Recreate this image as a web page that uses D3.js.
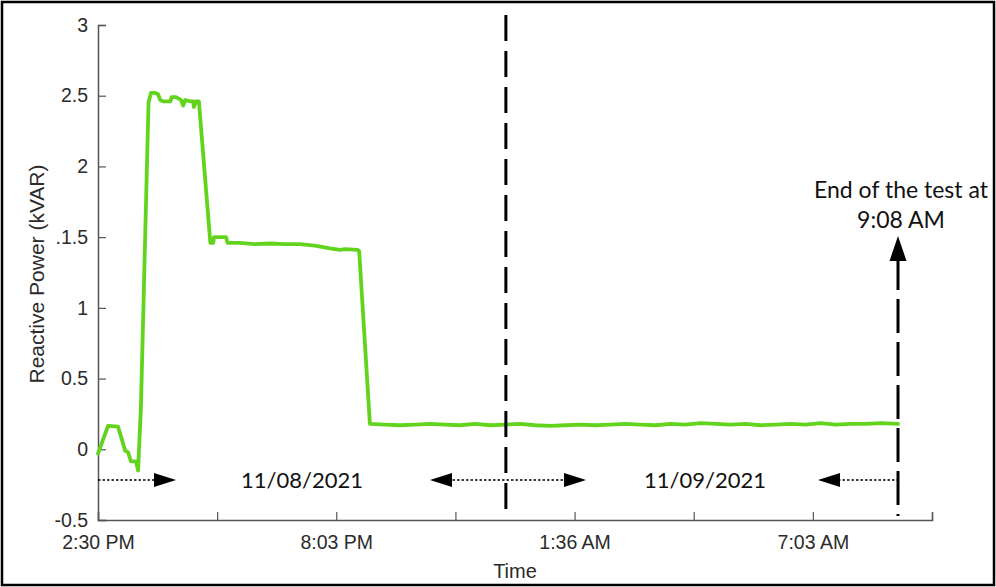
<!DOCTYPE html>
<html>
<head>
<meta charset="utf-8">
<script src="https://cdn.jsdelivr.net/npm/d3@7"></script>
<style>
  html, body { margin: 0; padding: 0; background: #fff; }
  svg { display: block; }
</style>
</head>
<body>
<svg id="chart" width="996" height="587"></svg>
<script>
// Reactive power over the test run; time in minutes after 2:30 PM
const timeMin = [0, 14, 28, 38, 42, 46, 53, 56, 60, 70.6, 74, 80, 84, 87, 91, 101, 103, 109, 116, 119, 122, 129, 133, 134, 137, 141,
  157, 161, 162, 179, 181, 198, 219, 240, 261, 282, 303, 324, 338, 345, 363, 365,
  380, 401, 422, 443, 464, 485, 506, 527, 548, 569, 590, 611, 632, 653, 674, 695, 716, 737, 758, 779, 800, 821, 842, 863,
  884, 905, 926, 947, 968, 989, 1010, 1031, 1052, 1073, 1094, 1118];
const kvar = [-0.03, 0.165, 0.16, -0.01, -0.02, -0.085, -0.085, -0.15, 0.3, 2.45, 2.52, 2.52, 2.51, 2.47, 2.46, 2.46, 2.49, 2.49, 2.47, 2.43, 2.47, 2.46, 2.46, 2.42, 2.46, 2.46,
  1.46, 1.46, 1.50, 1.50, 1.46, 1.46, 1.45, 1.455, 1.45, 1.45, 1.44, 1.42, 1.41, 1.415, 1.41, 1.40,
  0.18, 0.175, 0.17, 0.175, 0.18, 0.175, 0.17, 0.18, 0.17, 0.175, 0.18, 0.17, 0.165, 0.17, 0.175, 0.17, 0.175, 0.18, 0.175, 0.17, 0.18, 0.175, 0.185, 0.18,
  0.175, 0.18, 0.17, 0.175, 0.18, 0.175, 0.185, 0.175, 0.18, 0.18, 0.185, 0.18];

const yTicks = [-0.5, 0, 0.5, 1, 1.5, 2, 2.5, 3];
const yTickLabels = ["-0.5", "0", "0.5", "1", ".1.5", "2", "2.5", "3"];
const xTicks = [0, 166.5, 333, 499.5, 666, 832.5, 999, 1165.5];
const xTickLabels = ["2:30 PM", "", "8:03 PM", "", "1:36 AM", "", "7:03 AM", ""];

const dateLabels = ["11/08/2021", "11/09/2021"];
const midnightMin = 570;     // 12:00 AM
const endTestMin = 1118;     // 9:08 AM
const endNote = ["End of the test at", "9:08 AM"];

const svg = d3.select("#chart");
const W = 996, H = 587;
const m = { left: 98, right: 64, top: 25, bottom: 67 };

// outer frame
svg.append("rect").attr("x", 2).attr("y", 2).attr("width", W - 4).attr("height", H - 4)
  .attr("fill", "#fff").attr("stroke", "#000").attr("stroke-width", 2.5);

const x = d3.scaleLinear().domain([0, 1165.5]).range([m.left, W - m.right]);
const y = d3.scaleLinear().domain([-0.5, 3]).range([H - m.bottom, m.top]);

const axisColor = "#555";
const textColor = "#2b2b2b";
const labelFont = "'Liberation Sans', Arial, sans-serif";

// y axis, ticks pointing inward
const gy = svg.append("g").attr("transform", `translate(${m.left},0)`)
  .call(d3.axisLeft(y).tickValues(yTicks).tickSize(-8).tickPadding(10)
    .tickFormat((d, i) => yTickLabels[i]));
gy.select(".domain").attr("stroke", axisColor).attr("stroke-width", 1.5);
gy.selectAll(".tick line").attr("stroke", axisColor).attr("stroke-width", 1.2);
gy.selectAll(".tick text").attr("fill", textColor).attr("font-size", 19.5).attr("font-family", labelFont);

// x axis, ticks pointing inward
const gx = svg.append("g").attr("transform", `translate(0,${H - m.bottom})`)
  .call(d3.axisBottom(x).tickValues(xTicks).tickSize(-8).tickPadding(15)
    .tickFormat((d, i) => xTickLabels[i]));
gx.select(".domain").attr("stroke", axisColor).attr("stroke-width", 1.5);
gx.selectAll(".tick line").attr("stroke", axisColor).attr("stroke-width", 1.2);
gx.selectAll(".tick text").attr("fill", textColor).attr("font-size", 19.5).attr("font-family", labelFont);

// axis titles
svg.append("text").attr("x", 515).attr("y", 578)
  .attr("text-anchor", "middle").attr("font-size", 20).attr("font-family", labelFont)
  .attr("fill", textColor).text("Time");
svg.append("text").attr("transform", `translate(44,274) rotate(-90)`)
  .attr("text-anchor", "middle").attr("font-size", 21).attr("font-family", labelFont)
  .attr("fill", textColor).text("Reactive Power (kVAR)");

// data line
const line = d3.line().x((d, i) => x(timeMin[i])).y(d => y(d));
svg.append("path").datum(kvar).attr("d", line)
  .attr("fill", "none").attr("stroke", "#63d41e").attr("stroke-width", 3.8)
  .attr("stroke-linejoin", "round").attr("stroke-linecap", "round");

// annotation layer
const noteFont = "Lato, 'Open Sans', 'DejaVu Sans', sans-serif";
const ann = svg.append("g");

// midnight divider
ann.append("line").attr("x1", x(midnightMin)).attr("x2", x(midnightMin))
  .attr("y1", 15).attr("y2", y(-0.5) - 4)
  .attr("stroke", "#000").attr("stroke-width", 3).attr("stroke-dasharray", "26,10");

// end-of-test marker with upward arrow
const endX = x(endTestMin);
ann.append("line").attr("x1", endX).attr("x2", endX)
  .attr("y1", 256).attr("y2", y(-0.5) - 4)
  .attr("stroke", "#000").attr("stroke-width", 3).attr("stroke-dasharray", "34,9");
ann.append("path")
  .attr("d", `M${endX},236 L${endX - 8.5},261 L${endX + 8.5},261 Z`).attr("fill", "#000");

ann.selectAll("text.endnote").data(endNote).join("text").attr("class", "endnote")
  .attr("x", 901).attr("y", (d, i) => 198 + i * 30)
  .attr("text-anchor", "middle").attr("font-size", 23).attr("font-family", noteFont)
  .attr("fill", "#111").text(d => d);

// date spans along the bottom
const arrowY = 480;
function head(xTip, dir) {
  // dir = +1 points right, -1 points left
  ann.append("path")
    .attr("d", `M${xTip},${arrowY} L${xTip - dir * 22},${arrowY - 7} L${xTip - dir * 22},${arrowY + 7} Z`)
    .attr("fill", "#000");
}
function dotted(x1, x2) {
  ann.append("line").attr("x1", x1).attr("x2", x2).attr("y1", arrowY).attr("y2", arrowY)
    .attr("stroke", "#000").attr("stroke-width", 1.5).attr("stroke-dasharray", "2.5,2");
}
dotted(x(0), 156); head(176, 1);
dotted(448, 566); head(430, -1); head(586, 1);
dotted(838, endX); head(818, -1);

ann.selectAll("text.date").data(dateLabels).join("text").attr("class", "date")
  .attr("x", (d, i) => [302, 705][i]).attr("y", arrowY + 8)
  .attr("text-anchor", "middle").attr("font-size", 22).attr("font-family", noteFont)
  .attr("fill", "#111").text(d => d);
</script>
</body>
</html>
